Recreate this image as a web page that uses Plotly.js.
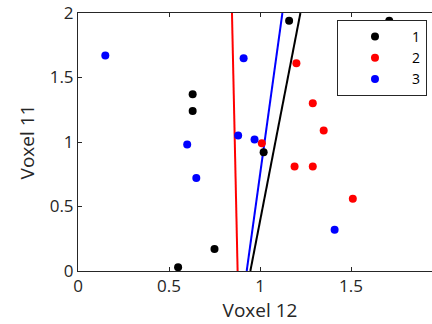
<!DOCTYPE html>
<html>
<head>
<meta charset="utf-8">
<script src="https://cdn.plot.ly/plotly-3.0.1.min.js"></script>
<style>
html,body{margin:0;padding:0;overflow:hidden;width:432px;height:324px;background:#fff;}
#chart{width:470px;height:324px;}
</style>
</head>
<body>
<div id="chart"></div>
<script>
// Class 1 (black)
const x1 = [0.55, 0.75, 0.63, 0.63, 1.16, 1.02, 1.71];
const y1 = [0.03, 0.17, 1.37, 1.24, 1.94, 0.92, 1.94];
// Class 2 (red)
const x2 = [1.20, 1.29, 1.35, 1.01, 1.19, 1.29, 1.51];
const y2 = [1.61, 1.30, 1.09, 0.99, 0.81, 0.81, 0.56];
// Class 3 (blue)
const x3 = [0.15, 0.60, 0.65, 0.91, 0.88, 0.97, 1.41];
const y3 = [1.67, 0.98, 0.72, 1.65, 1.05, 1.02, 0.32];
// Decision boundary lines (x at y=0 and y=2)
const lineY = [0, 2];
const line1X = [0.947, 1.222];
const line2X = [0.877, 0.846];
const line3X = [0.927, 1.123];
const names = ['1', '2', '3'];
const colors = ['#000000', '#ff0000', '#0000ff'];
const tickVals = [0, 0.5, 1, 1.5, 2];
const tickText = ['0', '0.5', '1', '1.5', '2'];

const dark = '#262626';
const font = 'Open Sans, sans-serif';

const traces = [
  {x: line2X, y: lineY, mode: 'lines', line: {color: colors[1], width: 2}, showlegend: false, hoverinfo: 'skip'},
  {x: line3X, y: lineY, mode: 'lines', line: {color: colors[2], width: 2}, showlegend: false, hoverinfo: 'skip'},
  {x: line1X, y: lineY, mode: 'lines', line: {color: colors[0], width: 2}, showlegend: false, hoverinfo: 'skip'},
  {x: x1, y: y1, mode: 'markers', name: names[0], marker: {color: colors[0], size: 8}},
  {x: x2, y: y2, mode: 'markers', name: names[1], marker: {color: colors[1], size: 8}},
  {x: x3, y: y3, mode: 'markers', name: names[2], marker: {color: colors[2], size: 8}}
];

const axisCommon = {
  showgrid: false, zeroline: false, showline: true, linecolor: dark, linewidth: 1,
  mirror: 'ticks', ticks: 'inside', ticklen: 4, tickcolor: dark,
  tickfont: {family: font, size: 17, color: dark}
};

const layout = {
  width: 470, height: 324,
  margin: {l: 78, r: 28, t: 13, b: 53},
  paper_bgcolor: '#ffffff', plot_bgcolor: '#ffffff',
  font: {family: font, color: dark},
  xaxis: Object.assign({}, axisCommon, {
    range: [0, 2], tickvals: tickVals, ticktext: tickText,
    title: {text: 'Voxel 12', font: {family: font, size: 19, color: dark}, standoff: 4}
  }),
  yaxis: Object.assign({}, axisCommon, {
    range: [0, 2], tickvals: tickVals, ticktext: tickText,
    title: {text: 'Voxel 11', font: {family: font, size: 19, color: dark}, standoff: 10}
  }),
  legend: {
    x: 0.7115, y: 0.973, xanchor: 'left', yanchor: 'top',
    bgcolor: '#ffffff', bordercolor: dark, borderwidth: 1,
    font: {family: font, size: 14, color: '#000000'},
    itemwidth: 64
  },
  showlegend: true
};

Plotly.newPlot('chart', traces, layout, {staticPlot: true, displayModeBar: false});
</script>
</body>
</html>
